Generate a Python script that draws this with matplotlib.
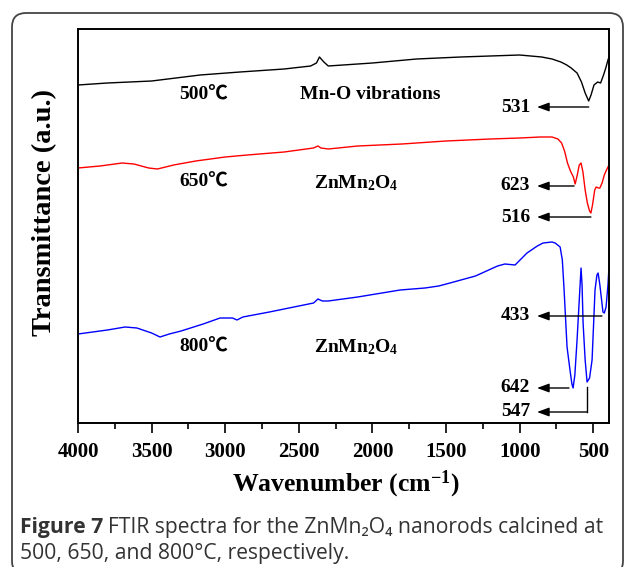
import matplotlib
matplotlib.use("Agg")
from matplotlib import pyplot as plt
from matplotlib.patches import FancyBboxPatch
from matplotlib.transforms import IdentityTransform


# FTIR spectra (wavenumber in cm-1, transmittance in a.u.)
wn_500 = [4000, 3800, 3500, 3170, 2900, 2600, 2420, 2380, 2360, 2330, 2300, 2200,
          2000, 1700, 1400, 1200, 1000, 850, 780, 720, 680, 650, 610, 580, 555,
          531, 515, 495, 470, 450, 430, 415, 400, 393]
t_500 = [338, 340, 342, 348, 351, 354, 357, 360, 366, 361, 357, 358,
         360, 364, 366, 367, 368, 366, 364, 361, 358, 355, 350, 341, 330,
         322, 328, 338, 341, 340, 348, 355, 363, 366]

wn_650 = [4000, 3850, 3700, 3620, 3520, 3460, 3350, 3200, 3000, 2850, 2600, 2400,
          2370, 2350, 2300, 2100, 1800, 1500, 1200, 1000, 860, 780, 740, 715,
          695, 675, 655, 635, 623, 610, 595, 583, 570, 555, 540, 525, 516, 505,
          490, 480, 465, 455, 440, 425, 410, 393]
t_650 = [255, 257, 260, 259, 255, 254, 258, 262, 266, 268, 271, 275,
         277, 275, 274, 277, 279, 282, 284, 285, 286, 286, 284, 280,
         272, 260, 252, 246, 239, 247, 258, 260, 251, 233, 220, 212, 210, 218,
         233, 236, 235, 235, 240, 248, 253, 258]

wn_800 = [4000, 3800, 3680, 3600, 3500, 3443, 3380, 3300, 3150, 3035, 2950, 2920,
          2880, 2700, 2500, 2400, 2370, 2340, 2300, 2100, 1812, 1643, 1550, 1473,
          1300, 1150, 1100, 1031, 950, 880, 841, 780, 759, 725, 710, 698, 678,
          658, 645, 637, 625, 610, 595, 583, 576, 569, 555, 542, 525, 508, 495,
          488, 475, 467, 455, 434, 425, 413, 400, 393]
t_800 = [89, 93, 96, 95, 90, 86, 89, 92, 99, 105, 105, 103,
         106, 111, 117, 120, 124, 122, 122, 126, 133, 135, 137, 140,
         147, 157, 159, 158, 170, 177, 180, 181, 180, 176, 163, 133, 76,
         53, 39, 35, 48, 83, 123, 155, 138, 100, 63, 41, 45, 63, 108,
         133, 148, 150, 138, 111, 110, 116, 138, 156]

serif = ["Liberation Serif", "Noto Sans CJK SC", "DejaVu Sans"]
plt.rcParams["mathtext.fontset"] = "custom"
plt.rcParams["mathtext.rm"] = "Liberation Serif:bold"
plt.rcParams["mathtext.bf"] = "Liberation Serif:bold"
plt.rcParams["mathtext.it"] = "Liberation Serif:bold"

fig = plt.figure(figsize=(6.3, 5.67), dpi=100)
ax = fig.add_axes([78 / 630, 144 / 567, 531 / 630, 394 / 567])

ax.plot(wn_500, t_500, color="black", lw=1.0)
ax.plot(wn_650, t_650, color="#ff0000", lw=1.0)
ax.plot(wn_800, t_800, color="#0000ff", lw=1.0)

ax.set_xlim(4000, 393)
ax.set_ylim(0, 394)
ax.set_xticks([4000, 3500, 3000, 2500, 2000, 1500, 1000, 500])
ax.set_xticks(range(3750, 400, -500), minor=True)
ax.set_yticks([])
ax.tick_params(axis="x", which="major", direction="out", length=7, width=1.2, pad=7)
ax.tick_params(axis="x", which="minor", direction="out", length=4, width=1.2)
for s in ax.spines.values():
    s.set_linewidth(1.4)
for lab in ax.get_xticklabels():
    lab.set_fontfamily(serif)
    lab.set_fontweight("bold")
    lab.set_fontsize(15)

tfont = dict(family=serif, fontweight="bold", fontsize=14)

# sample labels
ax.text(3144, 328, "500\u2103", ha="center", va="center", **tfont)
ax.text(3144, 241, "650\u2103", ha="center", va="center", **tfont)
ax.text(3144, 76, "800\u2103", ha="center", va="center", **tfont)
ax.text(2017, 329, "Mn-O vibrations", ha="center", va="center", **tfont)
ax.text(2112, 240, "ZnMn$_2$O$_4$", ha="center", va="center", **tfont)
ax.text(2112, 76, "ZnMn$_2$O$_4$", ha="center", va="center", **tfont)

# peak markers
arrow = dict(arrowstyle="-|>,head_length=0.6,head_width=0.22", color="black",
             lw=1.0, shrinkA=0, shrinkB=0, mutation_scale=12)
peaks = [(531, 316, 531), (623, 237, 630), (516, 206, 516),
         (433, 107, 441), (642, 35, 665), (547, 11, 543)]
for label, y, tail in peaks:
    ax.annotate("", xy=(882, y), xytext=(tail, y), arrowprops=arrow)
    ax.text(928, y, str(label), ha="right", va="center", **tfont)
ax.plot([543, 543], [11, 36], color="black", lw=1.0)

fig.text(346 / 630, 1 - 484 / 567, "Wavenumber (cm$^{\\mathbf{-1}}$)", ha="center",
         va="center", family=serif, fontweight="bold", fontsize=18.5)
fig.text(45 / 630, 1 - 212 / 567, "Transmittance (a.u.)", rotation=90,
         ha="center", va="center", family=serif, fontweight="bold", fontsize=20.5)

# caption
cap = ["Open Sans", "DejaVu Sans"]
t1 = fig.text(20 / 630, 1 - 528 / 567, "Figure 7", family=cap, fontweight="bold",
              fontsize=15.2, color="#333333", va="center")
r = fig.canvas.get_renderer()
bb = t1.get_window_extent(r)
fig.text(bb.x1 / 630 + 5 / 630, 1 - 528 / 567,
         "FTIR spectra for the ZnMn\u2082O\u2084 nanorods calcined at",
         family=cap, fontsize=15.2, color="#333333", va="center")
fig.text(20 / 630, 1 - 554 / 567, "500, 650, and 800\u00b0C, respectively.",
         family=cap, fontsize=15.2, color="#333333", va="center")

# rounded frame
frame = FancyBboxPatch((12, -8), 611, 562, boxstyle="round,pad=0,rounding_size=14",
                       transform=IdentityTransform(), fill=False, ec="#444444", lw=1.3)
fig.add_artist(frame)

fig.savefig("out.png", dpi=100)
